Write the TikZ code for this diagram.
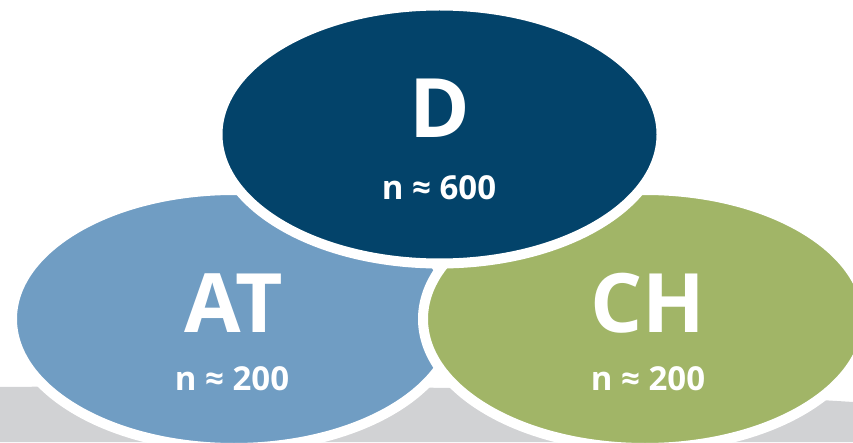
\documentclass[tikz,border=0pt]{standalone}
\usepackage{fontspec}
\setmainfont{Open Sans}
\definecolor{deepnavy}{HTML}{03436A}
\definecolor{steelblue}{HTML}{709DC3}
\definecolor{olivegreen}{HTML}{A1B567}
\definecolor{floorgray}{HTML}{D1D2D4}
\usepackage{tikz}
\usetikzlibrary{shapes.geometric, positioning}
\tikzstyle{blob} = [ellipse, minimum width=444pt, minimum height=258pt, inner sep=0pt, draw=white, line width=10pt]

\begin{document}
\begin{tikzpicture}[x=1pt, y=1pt,
    bigname/.style={text=white, font=\bfseries\fontsize{82}{82}\selectfont, anchor=base, inner sep=0pt},
    count/.style={text=white, font=\bfseries\fontsize{33}{33}\selectfont, anchor=base, inner sep=0pt}
  ]
    \useasboundingbox (0,0) rectangle (853,442);
    \clip (0,0) rectangle (853,442);

    % gray floor
    \fill[floorgray] (0,0) -- (0,55) .. controls (350,58) and (650,53) .. (853,40) -- (853,0) -- cycle;

    % the three groups
    \node[blob, fill=steelblue] (at) at (234,123) {};
    \node[blob, fill=olivegreen] (ch) at (645,123) {};
    \node[blob, fill=deepnavy] (d) at (439.5,307.5) {};

    \node[bigname] (dname) at (440,304) {D};
    \node[count] (dn) at (439,242) {n ≈ 600};
    \node[bigname] (atname) at (234,110) {AT};
    \node[count] (atn) at (232,52) {n ≈ 200};
    \node[bigname] (chname) at (648,110) {CH};
    \node[count] (chn) at (648,52) {n ≈ 200};
  \end{tikzpicture}
\end{document}
